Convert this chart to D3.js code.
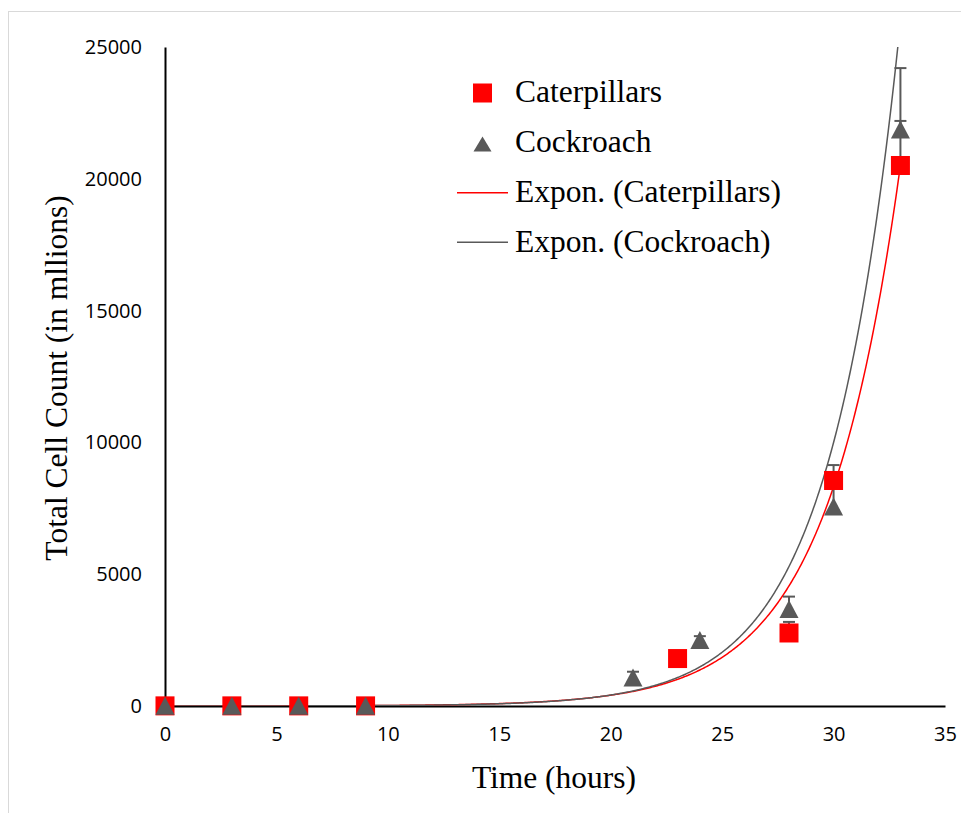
<!DOCTYPE html>
<html>
<head>
<meta charset="utf-8">
<script src="https://cdn.jsdelivr.net/npm/d3@7"></script>
<style>
  html, body { margin: 0; padding: 0; background: #fff; }
  svg { display: block; }
</style>
</head>
<body>
<div id="chart"></div>
<script>
// -----------------------------
// Data
// -----------------------------
const timeCaterpillars = [0, 3, 6, 9, 23, 28, 30, 33];
const countCaterpillars = [5, 5, 5, 5, 1800, 2770, 8555, 20505];
const errCaterpillars = [0, 0, 0, 0, 0, 420, 0, 1690];

const timeCockroach = [0, 3, 6, 9, 21, 24, 28, 30, 33];
const countCockroach = [5, 5, 5, 5, 1080, 2500, 3680, 7570, 21870];
const errCockroach = [0, 0, 0, 0, 220, 150, 470, 1570, 2330];

// exponential trendline coefficients y = a * e^(b x)
const trendCaterpillars = { a: 0.996, b: 0.301, from: 0, to: 33 };
const trendCockroach = { a: 0.719, b: 0.318, from: 0, to: 33 };

const xTicks = [0, 5, 10, 15, 20, 25, 30, 35];
const yTicks = [0, 5000, 10000, 15000, 20000, 25000];

const legendLabels = ["Caterpillars", "Cockroach", "Expon. (Caterpillars)", "Expon. (Cockroach)"];

// -----------------------------
// Layout
// -----------------------------
const width = 961, height = 813;
const margin = { left: 165, top: 47, right: 16, bottom: 107 };
const innerW = width - margin.left - margin.right;
const innerH = height - margin.top - margin.bottom;

const RED = "#ff0000";
const GREY = "#595959";

const svg = d3.select("#chart").append("svg")
  .attr("width", width)
  .attr("height", height);

// outer frame
svg.append("rect")
  .attr("x", 8.5).attr("y", 11.5)
  .attr("width", 960).attr("height", 810)
  .attr("fill", "none")
  .attr("stroke", "#d9d9d9")
  .attr("stroke-width", 1);

const x = d3.scaleLinear().domain([0, 35]).range([0, innerW]);
const y = d3.scaleLinear().domain([0, 25000]).range([innerH, 0]);

const g = svg.append("g").attr("transform", `translate(${margin.left},${margin.top})`);

svg.append("defs").append("clipPath").attr("id", "plot-clip")
  .append("rect").attr("x", 0).attr("y", 0).attr("width", innerW).attr("height", innerH);

// -----------------------------
// Axes
// -----------------------------
const xAxis = g.append("g")
  .attr("transform", `translate(0,${innerH})`)
  .call(d3.axisBottom(x).tickValues(xTicks).tickSize(0).tickPadding(22).tickFormat(d3.format("d")));

const yAxis = g.append("g")
  .call(d3.axisLeft(y).tickValues(yTicks).tickSize(0).tickPadding(23).tickFormat(d3.format("d")));

[xAxis, yAxis].forEach(ax => {
  ax.select(".domain").attr("stroke", "#000").attr("stroke-width", 2);
  ax.selectAll("text")
    .style("font-family", "'Open Sans', 'Noto Sans', sans-serif")
    .style("font-size", "20px")
    .attr("fill", "#000");
});
xAxis.selectAll("text").attr("dy", "0.71em").attr("y", 21);

// axis titles
svg.append("text")
  .attr("x", 554)
  .attr("y", 788)
  .attr("text-anchor", "middle")
  .style("font-family", "'Liberation Serif', 'Times New Roman', serif")
  .style("font-size", "31.5px")
  .text("Time (hours)");

svg.append("text")
  .attr("transform", `translate(67,${378}) rotate(-90)`)
  .attr("text-anchor", "middle")
  .style("font-family", "'Liberation Serif', 'Times New Roman', serif")
  .style("font-size", "31.5px")
  .text("Total Cell Count (in mllions)");

// -----------------------------
// Trendlines
// -----------------------------
const line = d3.line().x(d => x(d[0])).y(d => y(d[1]));
const plot = g.append("g").attr("clip-path", "url(#plot-clip)");

function trendPoints(t) {
  return d3.range(t.from, t.to + 0.001, 0.05).map(v => [v, t.a * Math.exp(t.b * v)]);
}

plot.append("path")
  .datum(trendPoints(trendCaterpillars))
  .attr("d", line)
  .attr("fill", "none")
  .attr("stroke", RED)
  .attr("stroke-width", 1.5);

plot.append("path")
  .datum(trendPoints(trendCockroach))
  .attr("d", line)
  .attr("fill", "none")
  .attr("stroke", GREY)
  .attr("stroke-width", 1.5);

// -----------------------------
// Error bars (plus direction)
// -----------------------------
const errRows = [];
timeCaterpillars.forEach((t, i) => { if (errCaterpillars[i] > 0) errRows.push([t, countCaterpillars[i], errCaterpillars[i]]); });
timeCockroach.forEach((t, i) => { if (errCockroach[i] > 0) errRows.push([t, countCockroach[i], errCockroach[i]]); });

const eb = g.append("g").attr("stroke", GREY).attr("stroke-width", 2);
eb.selectAll("line.bar").data(errRows).join("line")
  .attr("x1", d => x(d[0])).attr("x2", d => x(d[0]))
  .attr("y1", d => y(d[1])).attr("y2", d => y(d[1] + d[2]));
eb.selectAll("line.cap").data(errRows).join("line").attr("class", "cap")
  .attr("x1", d => x(d[0]) - 6).attr("x2", d => x(d[0]) + 6)
  .attr("y1", d => y(d[1] + d[2])).attr("y2", d => y(d[1] + d[2]));

// -----------------------------
// Markers
// -----------------------------
const sq = 19;
g.selectAll("rect.cat")
  .data(timeCaterpillars.map((t, i) => [t, countCaterpillars[i]]))
  .join("rect")
  .attr("class", "cat")
  .attr("x", d => x(d[0]) - sq / 2)
  .attr("y", d => y(d[1]) - sq / 2)
  .attr("width", sq).attr("height", sq)
  .attr("fill", RED);

function triPath(cx, cy, w, h) {
  return `M${cx},${cy - h / 2}L${cx + w / 2},${cy + h / 2}L${cx - w / 2},${cy + h / 2}Z`;
}

g.selectAll("path.roach")
  .data(timeCockroach.map((t, i) => [t, countCockroach[i]]))
  .join("path")
  .attr("class", "roach")
  .attr("d", d => triPath(x(d[0]), y(d[1]), 19, 18))
  .attr("fill", GREY);

// -----------------------------
// Legend
// -----------------------------
const legend = svg.append("g");
const legendBase = [101.7, 151.7, 201.7, 251.7];

legend.append("rect")
  .attr("x", 473).attr("y", 83.5).attr("width", 19).attr("height", 19)
  .attr("fill", RED);
legend.append("path")
  .attr("d", triPath(482.5, 144, 18, 15))
  .attr("fill", GREY);
legend.append("line")
  .attr("x1", 457).attr("x2", 508).attr("y1", 192.7).attr("y2", 192.7)
  .attr("stroke", RED).attr("stroke-width", 1.5);
legend.append("line")
  .attr("x1", 457).attr("x2", 508).attr("y1", 242.3).attr("y2", 242.3)
  .attr("stroke", GREY).attr("stroke-width", 1.5);

legend.selectAll("text")
  .data(legendLabels)
  .join("text")
  .attr("x", 515)
  .attr("y", (d, i) => legendBase[i])
  .style("font-family", "'Liberation Serif', 'Times New Roman', serif")
  .style("font-size", "31.5px")
  .text(d => d);
</script>
</body>
</html>
